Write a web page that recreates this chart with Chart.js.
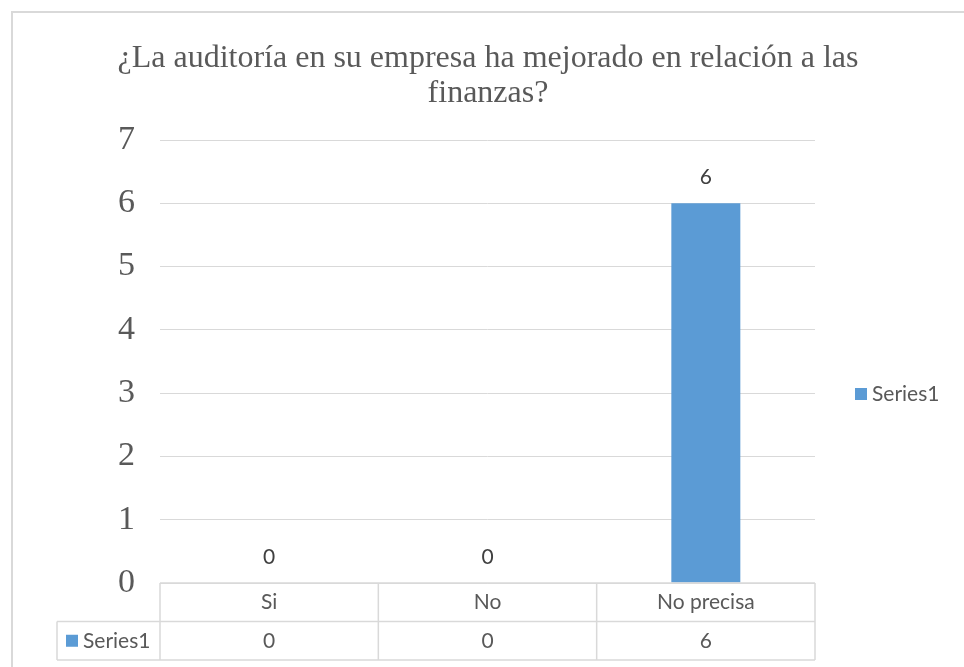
<!doctype html>
<html lang="es">
<head>
<meta charset="UTF-8">
<title>Auditoría y finanzas</title>
<script src="https://cdn.jsdelivr.net/npm/chart.js@4/dist/chart.umd.min.js"></script>
<style>
  body { margin: 0; background: #fff; }
  #chart-area { display: block; }
</style>
</head>
<body>
<canvas id="chart-area" width="964" height="667"></canvas>
<script>
  // datos
  var categorias = ['Si', 'No', 'No precisa'];
  var serie1 = [0, 0, 6];
  var nombreSerie = 'Series1';
  var titulo = ['¿La auditoría en su empresa ha mejorado en relación a las', 'finanzas?'];

  var azul = '#5B9BD5';
  var gris = '#d9d9d9';
  var textoGris = '#595959';
  var serif = '"Liberation Serif", "DejaVu Serif", serif';
  var fuenteTabla = '21px Lato, "Liberation Sans", sans-serif';

  // marco, titulo, etiquetas, leyenda y tabla de datos al estilo Excel
  var extras = {
    id: 'extras',
    beforeDraw: function(chart) {
      var ctx = chart.ctx;
      ctx.save();
      ctx.fillStyle = '#fff';
      ctx.fillRect(0, 0, chart.width, chart.height);
      ctx.strokeStyle = gris;
      ctx.lineWidth = 2;
      ctx.strokeRect(12, 12, chart.width + 20, chart.height + 20);

      ctx.fillStyle = textoGris;
      ctx.font = '32px ' + serif;
      ctx.textAlign = 'center';
      ctx.textBaseline = 'middle';
      titulo.forEach(function(t, i) {
        ctx.fillText(t, 488, 59 + i * 35);
      });
      ctx.restore();
    },
    afterDatasetsDraw: function(chart) {
      var ctx = chart.ctx;
      var x = chart.scales.x;
      var area = chart.chartArea;
      var meta = chart.getDatasetMeta(0);
      ctx.save();

      // etiquetas de datos
      ctx.font = fuenteTabla;
      ctx.fillStyle = '#404040';
      ctx.textAlign = 'center';
      ctx.textBaseline = 'middle';
      meta.data.forEach(function(bar, i) {
        ctx.fillText(String(serie1[i]), bar.x, bar.y - 26);
      });

      // tabla de datos
      var top = area.bottom;
      var h = 38.5;
      var paso = x.getPixelForValue(1) - x.getPixelForValue(0);
      var izq = area.left;
      var der = area.right;
      var cabIzq = izq - 103;
      ctx.strokeStyle = gris;
      ctx.lineWidth = 1.5;
      ctx.beginPath();
      ctx.moveTo(izq, top); ctx.lineTo(der, top);
      ctx.moveTo(cabIzq, top + h); ctx.lineTo(der, top + h);
      ctx.moveTo(cabIzq, top + 2 * h); ctx.lineTo(der, top + 2 * h);
      ctx.moveTo(cabIzq, top + h); ctx.lineTo(cabIzq, top + 2 * h);
      for (var i = 0; i <= categorias.length; i++) {
        var px = x.getPixelForValue(i) - paso / 2;
        ctx.moveTo(px, top); ctx.lineTo(px, top + 2 * h);
      }
      ctx.stroke();

      ctx.fillStyle = textoGris;
      categorias.forEach(function(c, i) {
        var cx = x.getPixelForValue(i);
        ctx.fillText(c, cx, top + h / 2);
        ctx.fillText(String(serie1[i]), cx, top + h * 1.5);
      });
      ctx.fillStyle = azul;
      ctx.fillRect(cabIzq + 9, top + h * 1.5 - 6, 12, 12);
      ctx.fillStyle = textoGris;
      ctx.textAlign = 'left';
      ctx.fillText(nombreSerie, cabIzq + 26, top + h * 1.5);

      // leyenda
      var ly = 394;
      ctx.fillStyle = azul;
      ctx.fillRect(855, ly - 6, 12, 12);
      ctx.fillStyle = textoGris;
      ctx.fillText(nombreSerie, 872, ly);
      ctx.restore();
    }
  };

  var config = {
    type: 'bar',
    data: {
      labels: categorias,
      datasets: [{
        label: nombreSerie,
        data: serie1,
        backgroundColor: azul,
        categoryPercentage: 1,
        barPercentage: 0.316
      }]
    },
    options: {
      responsive: false,
      animation: false,
      layout: { padding: { left: 0, right: 149, bottom: 84, top: 140 } },
      plugins: {
        legend: { display: false },
        tooltip: { enabled: false },
        title: { display: false }
      },
      scales: {
        x: { display: false },
        y: {
          min: 0,
          max: 7,
          afterFit: function(scale) { scale.width = 160; },
          border: { display: false },
          grid: { color: gris, lineWidth: 1, drawTicks: false },
          ticks: {
            stepSize: 1,
            padding: 25,
            color: textoGris,
            font: { family: serif, size: 34 }
          }
        }
      }
    },
    plugins: [extras]
  };

  window.onload = function() {
    var ctx = document.getElementById('chart-area').getContext('2d');
    window.myBar = new Chart(ctx, config);
  };
</script>
</body>
</html>
